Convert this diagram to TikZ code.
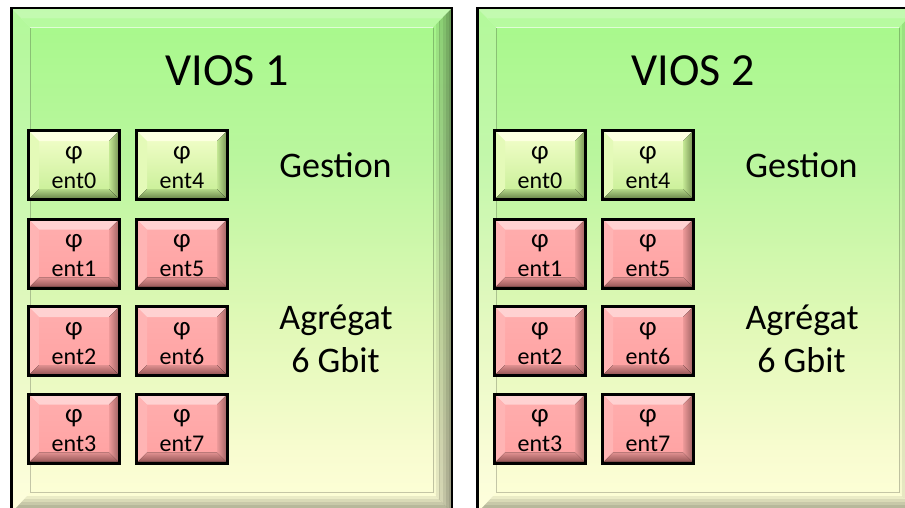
\documentclass[tikz,border=0pt]{standalone}
\usepackage{fontspec}
\setmainfont{Carlito}
\definecolor{pT}{HTML}{A6F98A}
\definecolor{p60}{HTML}{BAF69E}
\definecolor{p43}{HTML}{E2F9B8}
\definecolor{p31}{HTML}{F8FCD0}
\definecolor{pB}{HTML}{FFFFD8}
% green button
\definecolor{gFt}{HTML}{F4FFCC}
\definecolor{gFb}{HTML}{C6EE94}
\definecolor{gTp}{HTML}{FCFFE0}
\definecolor{gLf}{HTML}{E4FAB8}
\definecolor{gRi}{HTML}{C4E894}
\definecolor{gRo}{HTML}{7E9A5A}
\definecolor{gBi}{HTML}{B4D888}
\definecolor{gBo}{HTML}{6E8A4E}
% red button
\definecolor{rFt}{HTML}{FFAEAE}
\definecolor{rFb}{HTML}{FFA2A2}
\definecolor{rTp}{HTML}{FFD2D2}
\definecolor{rLf}{HTML}{FFB4B4}
\definecolor{rRi}{HTML}{EE9A9A}
\definecolor{rRo}{HTML}{A86868}
\definecolor{rBi}{HTML}{E09090}
\definecolor{rBo}{HTML}{985858}
\pgfdeclareverticalshading{panelsh}{100bp}{color(0bp)=(pB); color(25bp)=(pB); color(31bp)=(p31); color(43bp)=(p43); color(60bp)=(p60); color(75bp)=(pT); color(100bp)=(pT)}
\tikzset{
  ttl/.style={font=\fontsize{46}{55}\selectfont, anchor=base, inner sep=0pt},
  lbl/.style={font=\fontsize{36}{43}\selectfont, anchor=base, inner sep=0pt},
  btnbox/.style={draw=black, line width=3pt, minimum width=91pt, minimum height=69pt, inner sep=0pt},
  btxt/.style={font=\fontsize{24}{28}\selectfont, anchor=base, inner sep=0pt},
  bphi/.style={font=\fontsize{27}{30}\selectfont, anchor=base, inner sep=0pt},
}
\newcommand{\ebtn}[5]{%
  \fill[top color=#4Ft, bottom color=#4Fb] (#2+3,#3+3) rectangle (#2+91,#3+69);
  \fill[#4Tp] (#2+3,#3+3) -- (#2+91,#3+3) -- (#2+82,#3+12) -- (#2+12,#3+12) -- cycle;
  \fill[#4Lf] (#2+3,#3+3) -- (#2+12,#3+12) -- (#2+12,#3+60) -- (#2+3,#3+69) -- cycle;
  \fill[left color=#4Ri, right color=#4Ro] (#2+91,#3+3) -- (#2+82,#3+12) -- (#2+82,#3+60) -- (#2+91,#3+69) -- cycle;
  \fill[top color=#4Bi, bottom color=#4Bo] (#2+3,#3+69) -- (#2+12,#3+60) -- (#2+82,#3+60) -- (#2+91,#3+69) -- cycle;
  \node[btnbox] (#1) at (#2+47,#3+36) {};
  \node[bphi] (#1p) at (#2+47,#3+30) {φ};
  \node[btxt] (#1t) at (#2+47,#3+59) {ent#5};
}
\newcommand{\vpanel}[3]{%
  \begin{scope}[xshift=#1]
    \fill[shading=panelsh] (11.3,8) rectangle (452,513);
    % top bevel
    \fill[white, opacity=0.32] (11.3,8) -- (452,8) -- (442,18) -- (21,18) -- cycle;
    \fill[white, opacity=0.18] (21,18) -- (442,18) -- (433,27.5) -- (30.3,27.5) -- cycle;
    % left bevel
    \fill[white, opacity=0.14] (11.3,8) -- (30.3,27.5) -- (30.3,492.5) -- (11.3,513) -- cycle;
    % right bevel
    \begin{scope}
      \clip (452,8) -- (433,27.5) -- (433,492.5) -- (452,513) -- cycle;
      \foreach \i [evaluate=\i as \op using 0.02+0.07*\i] in {0,...,5}
        \fill[black, opacity=\op] (433+\i*3.2,0) rectangle (433+\i*3.2+3.3,520);
    \end{scope}
    % bottom bevel
    \begin{scope}
      \clip (11.3,513) -- (30.3,492.5) -- (433,492.5) -- (452,513) -- cycle;
      \foreach \i [evaluate=\i as \op using 0.0+0.07*\i] in {0,...,6}
        \fill[black, opacity=\op] (0,492.5+\i*3.1) rectangle (470,492.5+\i*3.1+3.2);
    \end{scope}
    % inner edge lines
    \draw[white, opacity=0.6, line width=1.2pt] (30.3,27.5) -- (433,27.5);
    \draw[black, opacity=0.22, line width=1pt] (30.3,27.5) -- (30.3,492.5) -- (433,492.5) -- (433,27.5);
    \draw[line width=2.6pt] (11.3,8) rectangle (452,513);
    % buttons
    \ebtn{#2e0}{27}{129}{g}{0}
    \ebtn{#2e4}{135}{129}{g}{4}
    \ebtn{#2e1}{27}{217.5}{r}{1}
    \ebtn{#2e5}{135}{217.5}{r}{5}
    \ebtn{#2e2}{27}{305}{r}{2}
    \ebtn{#2e6}{135}{305}{r}{6}
    \ebtn{#2e3}{27}{392.5}{r}{3}
    \ebtn{#2e7}{135}{392.5}{r}{7}
    % labels
    \node[ttl] (#2title) at (227,85) {#3};
    \node[lbl] (#2gest) at (335.5,177) {Gestion};
    \node[lbl] (#2agr) at (336,329) {Agrégat};
    \node[lbl] (#2gb) at (335.5,372) {6 Gbit};
  \end{scope}
}
\begin{document}
\begin{tikzpicture}[x=1pt, y=-1pt]
  \useasboundingbox (0,0) rectangle (905,507);
  \fill[white] (0,0) rectangle (905,507);
  \vpanel{0pt}{a}{VIOS 1}
  \vpanel{466pt}{b}{VIOS 2}
\end{tikzpicture}
\end{document}
